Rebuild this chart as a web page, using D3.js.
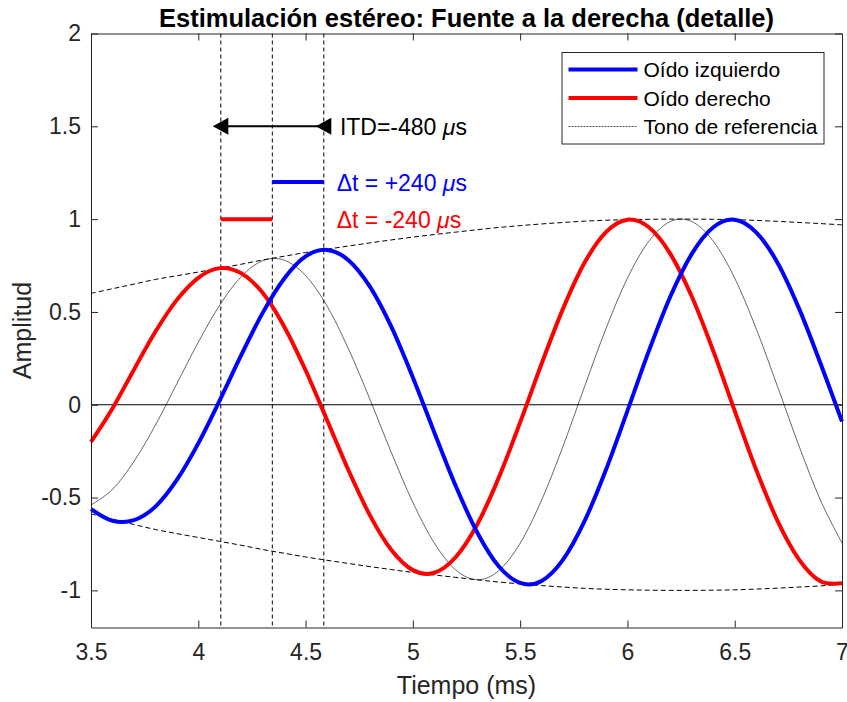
<!DOCTYPE html>
<html>
<head>
<meta charset="utf-8">
<script src="https://cdn.jsdelivr.net/npm/d3@7"></script>
<style>
  body { margin: 0; background: #ffffff; }
  text { font-family: "Liberation Sans", Arial, Helvetica, sans-serif; }
</style>
</head>
<body>
<div id="chart"></div>
<script>

// time axis (ms) and the three signals
var tiempo = [3.5, 3.6, 3.7, 3.8, 3.9, 4.0, 4.1, 4.2, 4.3, 4.4, 4.5, 4.6, 4.7, 4.8, 4.9, 5.0, 5.1, 5.2,
  5.3, 5.4, 5.5, 5.6, 5.7, 5.8, 5.9, 6.0, 6.1, 6.2, 6.3, 6.4, 6.5, 6.6, 6.7, 6.8, 6.9, 7.0];

var izquierdo = [-0.562, -0.625, -0.622, -0.549, -0.405, -0.208, 0.024, 0.267, 0.495, 0.679, 0.799, 0.834,
  0.779, 0.636, 0.419, 0.147, -0.149, -0.438, -0.688, -0.870, -0.960, -0.949, -0.834, -0.627, -0.350, -0.033,
  0.290, 0.583, 0.813, 0.956, 0.997, 0.929, 0.764, 0.518, 0.222, -0.090];

var derecho = [-0.200, -0.020, 0.189, 0.393, 0.565, 0.684, 0.736, 0.708, 0.603, 0.422, 0.186, -0.082,
  -0.353, -0.596, -0.783, -0.891, -0.905, -0.820, -0.645, -0.394, -0.095, 0.221, 0.518, 0.765, 0.930, 0.997,
  0.956, 0.813, 0.583, 0.290, -0.033, -0.350, -0.627, -0.834, -0.951, -0.962];

var referencia = [-0.540, -0.456, -0.306, -0.110, 0.113, 0.337, 0.537, 0.690, 0.776, 0.779, 0.696, 0.532,
  0.301, 0.029, -0.258, -0.526, -0.745, -0.890, -0.943, -0.894, -0.746, -0.514, -0.223, 0.097, 0.410, 0.682,
  0.881, 0.987, 0.987, 0.881, 0.682, 0.410, 0.097, -0.223, -0.515, -0.745];

// envelope of the reference tone (dashed)
var envSup = [0.600, 0.625, 0.650, 0.675, 0.695, 0.715, 0.736, 0.757, 0.780, 0.800, 0.820, 0.838, 0.855,
  0.872, 0.888, 0.903, 0.917, 0.930, 0.943, 0.955, 0.965, 0.974, 0.982, 0.989, 0.994, 0.997, 0.999, 1.000,
  1.000, 0.999, 0.997, 0.993, 0.988, 0.982, 0.976, 0.969];
var envInf = [-0.588, -0.617, -0.645, -0.672, -0.694, -0.715, -0.736, -0.757, -0.780, -0.800, -0.820,
  -0.838, -0.855, -0.872, -0.888, -0.903, -0.917, -0.930, -0.943, -0.955, -0.965, -0.974, -0.982, -0.989,
  -0.994, -0.997, -0.999, -1.000, -1.000, -0.999, -0.997, -0.993, -0.988, -0.982, -0.976, -0.966];

// vertical markers at the three peaks
var marcas = [4.105, 4.345, 4.585];

// annotations
var itdY = 1.5, itdTexto = "ITD=-480 ", itdTextoX = 4.66;
var dtIzqY = 1.2, dtDerY = 1.0, dtTextoX = 4.645;
var dtIzqTexto = "\u0394t = +240 ", dtDerTexto = "\u0394t = -240 ";

var xTicks = [3.5, 4, 4.5, 5, 5.5, 6, 6.5, 7];
var yTicks = [-1, -0.5, 0, 0.5, 1, 1.5, 2];

var leyenda = ["O\u00eddo izquierdo", "O\u00eddo derecho", "Tono de referencia"];


var margin = { top: 33.5, right: 5, bottom: 74.5, left: 91 },
  width = 847 - margin.left - margin.right,
  height = 702 - margin.top - margin.bottom;

var svg = d3.select("#chart")
  .append("svg")
  .attr("width", 847)
  .attr("height", 702)
  .append("g")
  .attr("transform", "translate(" + margin.left + "," + margin.top + ")");

var x = d3.scaleLinear().domain([3.5, 7]).range([0, width]);
var y = d3.scaleLinear().domain([-1.2, 2]).range([height, 0]);

var axisColor = "#262626";

// vertical dashed lines
svg.selectAll(".marca")
  .data(marcas)
  .enter().append("line")
  .attr("x1", function(d) { return x(d); })
  .attr("x2", function(d) { return x(d); })
  .attr("y1", y(2))
  .attr("y2", y(-1.2))
  .attr("stroke", "#000")
  .attr("stroke-width", 1)
  .style("stroke-dasharray", ("4, 3"));

// zero line
svg.append("line")
  .attr("x1", x(3.5)).attr("x2", x(7))
  .attr("y1", y(0)).attr("y2", y(0))
  .attr("stroke", "#000")
  .attr("stroke-width", 1);

var linea = function(vals) {
  return d3.line()
    .curve(d3.curveCardinal.tension(0))
    .x(function(d, i) { return x(tiempo[i]); })
    .y(function(d) { return y(d); })(vals);
};

// envelope
var envs = [envSup, envInf];
envs.forEach(function(env) {
  svg.append("path")
    .attr("fill", "none")
    .attr("stroke", "#000")
    .attr("stroke-width", 1)
    .style("stroke-dasharray", ("5, 3"))
    .attr("d", linea(env));
});

// reference tone
svg.append("path")
  .attr("fill", "none")
  .attr("stroke", "#000")
  .attr("stroke-width", 0.6)
  .attr("d", linea(referencia));

// right and left ear
svg.append("path")
  .attr("fill", "none")
  .attr("stroke", "#ff0000")
  .attr("stroke-width", 4)
  .attr("d", linea(derecho));
svg.append("path")
  .attr("fill", "none")
  .attr("stroke", "#0000ff")
  .attr("stroke-width", 4)
  .attr("d", linea(izquierdo));

// ITD arrow
svg.append("line")
  .attr("x1", x(marcas[0])).attr("x2", x(marcas[2]))
  .attr("y1", y(itdY)).attr("y2", y(itdY))
  .attr("stroke", "#000")
  .attr("stroke-width", 2);
var puntas = [marcas[0], marcas[2]];
puntas.forEach(function(m) {
  var cx = x(m), cy = y(itdY);
  svg.append("path")
    .attr("d", "M" + (cx + 7.5) + "," + (cy - 8.5) + "L" + (cx - 8) + "," + cy + "L" + (cx + 7.5) + "," + (cy + 8.5) + "Z")
    .attr("fill", "#000");
});

// delta t segments
svg.append("line")
  .attr("x1", x(marcas[1])).attr("x2", x(marcas[2]))
  .attr("y1", y(dtIzqY)).attr("y2", y(dtIzqY))
  .attr("stroke", "#0000ff").attr("stroke-width", 4);
svg.append("line")
  .attr("x1", x(marcas[0])).attr("x2", x(marcas[1]))
  .attr("y1", y(dtDerY)).attr("y2", y(dtDerY))
  .attr("stroke", "#ff0000").attr("stroke-width", 4);

var anotar = function(tx, ty, txt, color) {
  var t = svg.append("text")
    .attr("x", x(tx))
    .attr("y", y(ty) + 8.5)
    .attr("fill", color)
    .style("font-size", "23px")
    .text(txt);
  t.append("tspan").style("font-style", "italic").text("\u03bc");
  t.append("tspan").text("s");
};
anotar(itdTextoX, itdY, itdTexto, "#000");
anotar(dtTextoX, dtIzqY, dtIzqTexto, "#0000ff");
anotar(dtTextoX, dtDerY, dtDerTexto, "#ff0000");


//-- axes --//
var fmt = function(d) { return String(d); };
var gx = svg.append("g")
  .attr("transform", "translate(0," + height + ")")
  .call(d3.axisBottom(x).tickValues(xTicks).tickFormat(fmt).tickSize(-7).tickSizeOuter(0).tickPadding(16));
var gy = svg.append("g")
  .call(d3.axisLeft(y).tickValues(yTicks).tickFormat(fmt).tickSize(-7).tickSizeOuter(0).tickPadding(10));
var gt = svg.append("g")
  .call(d3.axisTop(x).tickValues(xTicks).tickFormat("").tickSize(-7).tickSizeOuter(0));
var gr = svg.append("g")
  .attr("transform", "translate(" + width + ",0)")
  .call(d3.axisRight(y).tickValues(yTicks).tickFormat("").tickSize(-7).tickSizeOuter(0));

var ejes = [gx, gy, gt, gr];
ejes.forEach(function(g) {
  g.selectAll("path, line").attr("stroke", axisColor).attr("stroke-width", 1);
  g.selectAll("text")
    .attr("fill", axisColor)
    .style("font-size", "23px")
    .style("font-family", "'Liberation Sans', Arial, sans-serif");
});

// axis labels
svg.append("text")
  .attr("text-anchor", "middle")
  .attr("x", width / 2)
  .attr("y", height + 66)
  .attr("fill", axisColor)
  .style("font-size", "25px")
  .text("Tiempo (ms)");
svg.append("text")
  .attr("text-anchor", "middle")
  .attr("transform", "translate(-60," + height / 2 + ")rotate(-90)")
  .attr("fill", axisColor)
  .style("font-size", "25px")
  .text("Amplitud");

// title
svg.append("text")
  .attr("text-anchor", "middle")
  .attr("x", width / 2)
  .attr("y", -7)
  .attr("fill", "#000")
  .style("font-size", "25.5px")
  .style("font-weight", "bold")
  .text("Estimulaci\u00f3n est\u00e9reo: Fuente a la derecha (detalle)");


//-- legend --//
var lg = svg.append("g")
  .attr("transform", "translate(" + (562 - margin.left) + "," + (52.5 - margin.top) + ")");
lg.append("rect")
  .attr("width", 262)
  .attr("height", 91.5)
  .attr("fill", "#fff")
  .attr("stroke", axisColor)
  .attr("stroke-width", 1);
var lgColors = ["#0000ff", "#ff0000", "#000"],
  lgWidths = [4, 4, 0.7];
for (var i = 0; i < leyenda.length; i++) {
  var ly = 17 + i * 28.5;
  lg.append("line")
    .attr("x1", 6.5).attr("x2", 75.5)
    .attr("y1", ly).attr("y2", ly)
    .attr("stroke", lgColors[i])
    .attr("stroke-width", lgWidths[i])
    .style("stroke-dasharray", i == 2 ? "2, 1" : null);
  lg.append("text")
    .attr("x", 81.5)
    .attr("y", ly + 7.5)
    .attr("fill", "#000")
    .style("font-size", "21px")
    .text(leyenda[i]);
}

</script>
</body>
</html>
